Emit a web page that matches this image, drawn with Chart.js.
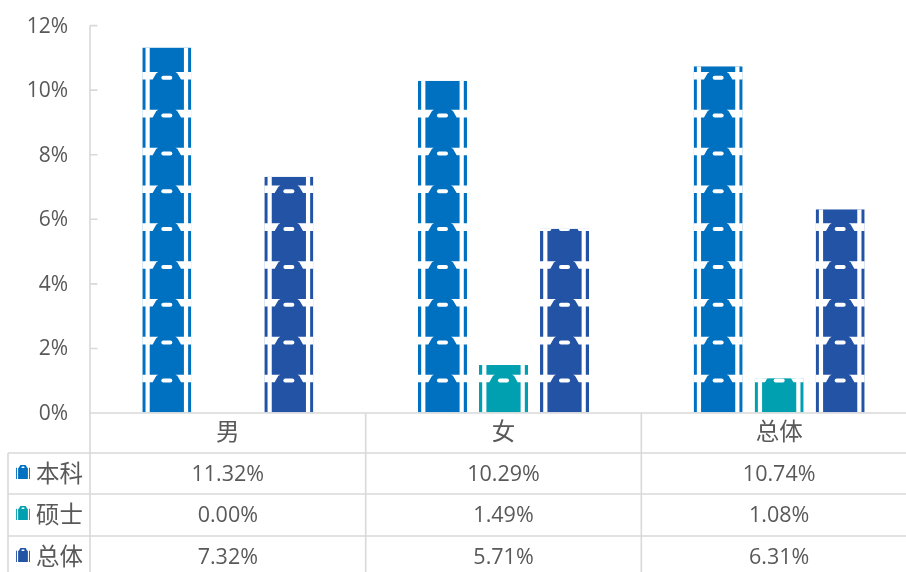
<!DOCTYPE html>
<html><head><meta charset="utf-8">
<script src="https://cdn.jsdelivr.net/npm/chart.js@4"></script>
<style>html,body{margin:0;padding:0;background:#fff;overflow:hidden}#w{position:absolute;left:0;top:0;width:906px;height:572px;overflow:hidden}canvas{display:block}</style>
</head><body><div id="w"><canvas id="c" width="918" height="572"></canvas></div>
<script>
const categories = ['男','女','总体'];
const seriesNames = ['本科','硕士','总体'];
const benke = [11.32,10.29,10.74];
const shuoshi = [0.00,1.49,1.08];
const zongti = [7.32,5.71,6.31];
const colors = ['#0070C0','#00A0B0','#2353A4'];
const FONT = '"Open Sans","Noto Sans CJK SC",sans-serif';
const CJK = '"Noto Sans CJK SC",sans-serif';
const GRID = '#D9D9D9', TXT = '#595959';
const ICON_PERIOD = 1.172; // percent units per stacked icon
function cuts(ctx,x,y,w,h){
  // white cut-outs of one bag tile whose top edge is y
  const k=w/49, s=h/37.9;
  ctx.fillStyle='#fff';
  ctx.beginPath();
  ctx.moveTo(x-1,y);ctx.lineTo(x+16*k,y);ctx.lineTo(x+14*k,y+1.2*s);ctx.lineTo(x+10.3*k,y+7.6*s);ctx.lineTo(x-1,y+7.6*s);ctx.closePath();
  ctx.moveTo(x+w+1,y);ctx.lineTo(x+w-16*k,y);ctx.lineTo(x+w-14*k,y+1.2*s);ctx.lineTo(x+w-10.3*k,y+7.6*s);ctx.lineTo(x+w+1,y+7.6*s);ctx.closePath();
  ctx.fill();
  ctx.beginPath();
  ctx.roundRect(x+w/2-5.5*k,y+3.8*s,11*k,4*s,2*s);
  ctx.fill();
}
function stripes(ctx,x,y,w,h){
  const k=w/49;
  ctx.fillStyle='#fff';
  ctx.fillRect(x+3.2*k,y,4.2*k,h);
  ctx.fillRect(x+w-7.4*k,y,4.2*k,h);
}
const picto = {
  id:'picto',
  beforeDatasetsDraw(chart){
    const yS=chart.scales.y, ctx=chart.ctx;
    const ph=Math.abs(yS.getPixelForValue(ICON_PERIOD)-yS.getPixelForValue(0));
    chart.data.datasets.forEach((d,i)=>{
      chart.getDatasetMeta(i).data.forEach((b,j)=>{
        const v=d.data[j]; if(!v) return;
        const w=b.width,x=b.x-w/2,top=b.y,base=b.base;
        ctx.save();
        ctx.beginPath();ctx.rect(x,top,w,base-top);ctx.clip();
        ctx.fillStyle=colors[i];ctx.fillRect(x,top,w,base-top);
        stripes(ctx,x,top,w,base-top);
        for(let n=1;base-(n-1)*ph>top;n++) cuts(ctx,x,base-n*ph,w,ph);
        ctx.restore();
      });
    });
  },
  afterDraw(chart){
    const ctx=chart.ctx,{left,right,bottom,top}=chart.chartArea;
    const xS=chart.scales.x,yS=chart.scales.y;
    const rows=[453,494,536];
    const H=572,L=8;
    const step=xS.width/3;
    const rowData=[benke,shuoshi,zongti];
    ctx.save();
    ctx.strokeStyle=GRID;ctx.lineWidth=1.6;
    ctx.beginPath();
    ctx.moveTo(left,bottom);ctx.lineTo(right,bottom);
    rows.forEach(y=>{ctx.moveTo(L,y);ctx.lineTo(right,y);});
    ctx.moveTo(L,rows[0]);ctx.lineTo(L,H);
    ctx.moveTo(left,top);ctx.lineTo(left,H);
    for(let i=1;i<=3;i++){ctx.moveTo(left+step*i,bottom);ctx.lineTo(left+step*i,H);}
    yS.ticks.forEach((t,i)=>{const p=yS.getPixelForTick(i);ctx.moveTo(left,p);ctx.lineTo(left+7.5,p);});
    ctx.stroke();
    ctx.fillStyle=TXT;ctx.textBaseline='middle';ctx.textAlign='center';
    ctx.font='23.5px '+CJK;
    categories.forEach((c,i)=>ctx.fillText(c,xS.getPixelForTick(i),431));
    rowData.forEach((r,ri)=>{
      const y=rows[ri]+21;
      ctx.font='21.5px '+FONT;ctx.textAlign='center';
      r.forEach((v,i)=>ctx.fillText(v.toFixed(2)+'%',xS.getPixelForTick(i),y+1));
      ctx.font='23.5px '+CJK;ctx.textAlign='left';
      ctx.fillText(seriesNames[ri],36,y-1);
      ctx.fillStyle=colors[ri];ctx.fillRect(16,y-9,14,14);
      stripes(ctx,16,y-9,14,14);
      cuts(ctx,16,y-9,14,14);
      ctx.fillStyle=TXT;
    });
    ctx.restore();
  }
};
new Chart(document.getElementById('c'),{
  type:'bar',
  data:{labels:categories,datasets:[
    {label:seriesNames[0],data:benke,backgroundColor:'rgba(0,0,0,0)'},
    {label:seriesNames[1],data:shuoshi,backgroundColor:'rgba(0,0,0,0)'},
    {label:seriesNames[2],data:zongti,backgroundColor:'rgba(0,0,0,0)'}
  ]},
  plugins:[picto],
  options:{
    responsive:false,animation:false,
    layout:{padding:{right:1}},
    categoryPercentage:0.664,barPercentage:0.803,
    plugins:{legend:{display:false},tooltip:{enabled:false}},
    scales:{
      x:{position:'bottom',grid:{display:false},border:{display:false},ticks:{display:false},afterFit(s){s.height=572-413;}},
      y:{min:0,max:12,position:'left',
        afterFit(s){s.width=90;},
        grid:{display:true,drawOnChartArea:false,tickColor:'rgba(0,0,0,0)',tickLength:9},border:{display:false},
        ticks:{stepSize:2,color:TXT,font:{size:21,family:FONT},padding:13,labelOffset:1,callback:v=>v+'%'}}
    }
  }
});
</script></body></html>
